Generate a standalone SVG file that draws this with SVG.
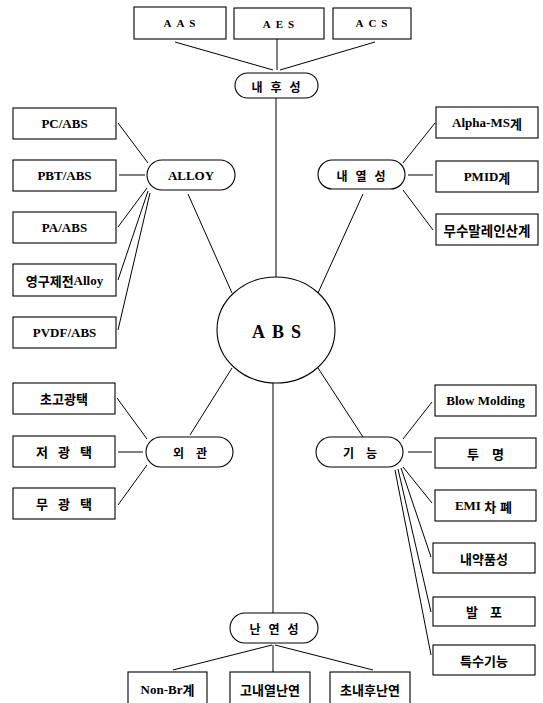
<svg xmlns="http://www.w3.org/2000/svg" width="543" height="703" viewBox="0 0 543 703">
<style>
.b{fill:#fff;stroke:#000;stroke-width:1.1}
.t{font-family:"Liberation Serif","Noto Serif CJK KR","Noto Sans CJK KR",serif;font-weight:bold;font-size:13px;fill:#000;text-anchor:middle;dominant-baseline:central}
.k{font-family:"Noto Sans CJK KR","Liberation Serif",sans-serif;font-weight:bold;font-size:13px;fill:#000;text-anchor:middle;dominant-baseline:central}
.c line{stroke:#000;stroke-width:1}
</style>
<rect width="543" height="703" fill="#fff"/>
<g class="c" id="connectors">
<line x1="175" y1="42" x2="273" y2="70"/>
<line x1="277" y1="39" x2="277" y2="70"/>
<line x1="375" y1="42" x2="280" y2="70"/>
<line x1="276" y1="97" x2="276" y2="277"/>
<line x1="118" y1="123" x2="148" y2="163"/>
<line x1="119" y1="175" x2="145" y2="175"/>
<line x1="118" y1="227" x2="147" y2="188"/>
<line x1="118" y1="280" x2="148" y2="191"/>
<line x1="118" y1="330" x2="150" y2="193"/>
<line x1="188" y1="194" x2="232" y2="293"/>
<line x1="403" y1="163" x2="435" y2="123"/>
<line x1="408" y1="175" x2="433" y2="175"/>
<line x1="403" y1="190" x2="433" y2="230"/>
<line x1="363" y1="194" x2="318" y2="293"/>
<line x1="117" y1="398" x2="147" y2="439"/>
<line x1="118" y1="452" x2="143" y2="452"/>
<line x1="118" y1="505" x2="147" y2="465"/>
<line x1="190" y1="435" x2="232" y2="368"/>
<line x1="403" y1="439" x2="432" y2="402"/>
<line x1="408" y1="452" x2="432" y2="452"/>
<line x1="403" y1="467" x2="432" y2="503"/>
<line x1="401" y1="468" x2="431" y2="557"/>
<line x1="398" y1="469" x2="431" y2="612"/>
<line x1="395" y1="470" x2="431" y2="655"/>
<line x1="363" y1="437" x2="318" y2="368"/>
<line x1="273" y1="383" x2="273" y2="613"/>
<line x1="173" y1="670" x2="272" y2="645"/>
<line x1="273" y1="645" x2="273" y2="672"/>
<line x1="275" y1="645" x2="373" y2="670"/>
</g>
<g id="abs"><ellipse class="b" cx="276" cy="330" rx="59" ry="53"/><text class="t" x="280" y="332" style="font-size:18px;letter-spacing:7px">ABS</text></g>
<g id="naehuseong"><rect class="b" x="235" y="73" width="83" height="25" rx="12.5"/><text class="k" x="280" y="86" style="font-size:12px;letter-spacing:8px">내후성</text></g>
<g id="aas"><rect class="b" x="134" y="7" width="92" height="32"/><text class="t" x="182" y="23" style="font-size:11px;letter-spacing:5px">AAS</text></g>
<g id="aes"><rect class="b" x="234" y="8" width="90" height="31"/><text class="t" x="281" y="24" style="font-size:11px;letter-spacing:5px">AES</text></g>
<g id="acs"><rect class="b" x="333" y="8" width="78" height="31"/><text class="t" x="374" y="23" style="font-size:11px;letter-spacing:5px">ACS</text></g>
<g id="alloy"><rect class="b" x="147" y="160" width="88" height="30" rx="15"/><text class="t" x="191" y="175">ALLOY</text></g>
<g id="pcabs"><rect class="b" x="13" y="108" width="103" height="31"/><text class="t" x="64.5" y="123.5">PC/ABS</text></g>
<g id="pbtabs"><rect class="b" x="13" y="160" width="103" height="31"/><text class="t" x="64.5" y="175.5">PBT/ABS</text></g>
<g id="paabs"><rect class="b" x="13" y="212" width="103" height="31"/><text class="t" x="64.5" y="227.5">PA/ABS</text></g>
<g id="yeonggu"><rect class="b" x="13" y="264" width="103" height="32"/><text class="t" x="64.5" y="280"><tspan style="font-family:'Noto Sans CJK KR',sans-serif">영구제전</tspan>Alloy</text></g>
<g id="pvdfabs"><rect class="b" x="13" y="317" width="103" height="31"/><text class="t" x="64.5" y="332.5">PVDF/ABS</text></g>
<g id="naeyeol"><rect class="b" x="318" y="160" width="87" height="29" rx="14.5"/><text class="k" x="365" y="175" style="font-size:12px;letter-spacing:8px">내열성</text></g>
<g id="alphams"><rect class="b" x="436" y="107" width="102" height="31"/><text class="t" x="487" y="122.5">Alpha-MS<tspan style="font-family:'Noto Sans CJK KR',sans-serif">계</tspan></text></g>
<g id="pmid"><rect class="b" x="436" y="161" width="102" height="31"/><text class="t" x="487" y="176.5">PMID<tspan style="font-family:'Noto Sans CJK KR',sans-serif">계</tspan></text></g>
<g id="musu"><rect class="b" x="436" y="214" width="102" height="31"/><text class="k" x="487" y="229.5" style="font-size:13.5px">무수말레인산계</text></g>
<g id="oegwan"><rect class="b" x="146" y="437" width="87" height="30" rx="15"/><text class="k" x="196" y="452" style="font-size:12px;letter-spacing:12px">외관</text></g>
<g id="chogo"><rect class="b" x="13" y="383" width="102" height="31"/><text class="k" x="64" y="398.5">초고광택</text></g>
<g id="jeo"><rect class="b" x="13" y="436" width="102" height="31"/><text class="k" x="69" y="451.5" style="letter-spacing:10px">저광택</text></g>
<g id="mu"><rect class="b" x="13" y="488" width="102" height="31"/><text class="k" x="69" y="503.5" style="letter-spacing:10px">무광택</text></g>
<g id="gineung"><rect class="b" x="316" y="437" width="87" height="30" rx="15"/><text class="k" x="366" y="452" style="font-size:12px;letter-spacing:12px">기능</text></g>
<g id="blow"><rect class="b" x="435" y="385" width="101" height="31"/><text class="t" x="485.5" y="400.5">Blow Molding</text></g>
<g id="tumyeong"><rect class="b" x="435" y="438" width="101" height="30"/><text class="k" x="492" y="453" style="letter-spacing:13px">투명</text></g>
<g id="emi"><rect class="b" x="435" y="490" width="101" height="31"/><text class="t" x="485.5" y="505.5">EMI <tspan style="font-family:'Noto Sans CJK KR',sans-serif;letter-spacing:4px">차폐</tspan></text></g>
<g id="naeyak"><rect class="b" x="433" y="543" width="102" height="30"/><text class="k" x="484" y="558">내약품성</text></g>
<g id="balpo"><rect class="b" x="433" y="597" width="102" height="29"/><text class="k" x="490" y="611.5" style="letter-spacing:12px">발포</text></g>
<g id="teuksu"><rect class="b" x="433" y="645" width="102" height="30"/><text class="k" x="484" y="660">특수기능</text></g>
<g id="nanyeon"><rect class="b" x="230" y="613" width="88" height="30" rx="15"/><text class="k" x="278" y="628" style="font-size:12px;letter-spacing:8px">난연성</text></g>
<g id="nonbr"><rect class="b" x="128" y="672" width="79" height="36"/><text class="t" x="167.5" y="689">Non-Br<tspan style="font-family:'Noto Sans CJK KR',sans-serif">계</tspan></text></g>
<g id="gonae"><rect class="b" x="230" y="672" width="80" height="36"/><text class="k" x="270" y="689">고내열난연</text></g>
<g id="chonae"><rect class="b" x="330" y="672" width="80" height="36"/><text class="k" x="370" y="689">초내후난연</text></g>
</svg>
